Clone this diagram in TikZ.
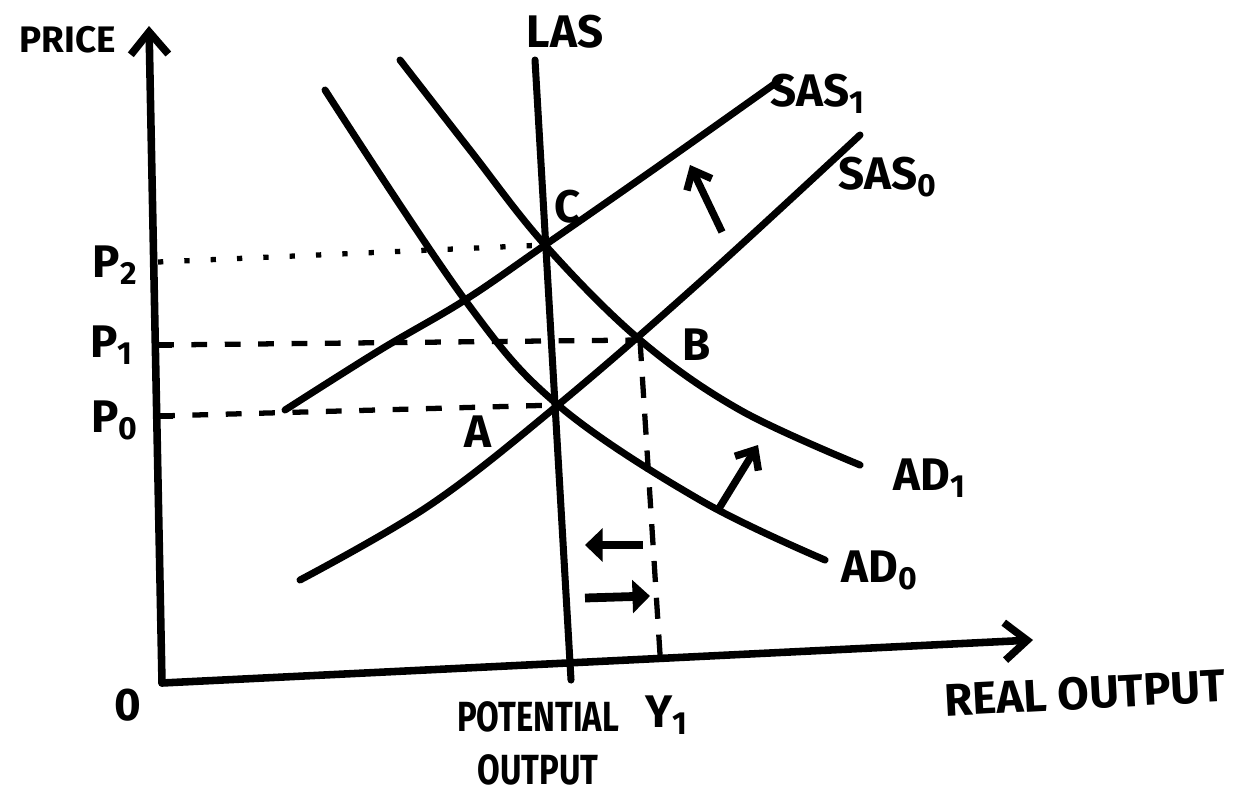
\documentclass[tikz,border=0pt]{standalone}
\usepackage{fontspec}
\setmainfont{Fira Sans}
\usetikzlibrary{arrows.meta}
\begin{document}
\begin{tikzpicture}[x=0.02cm,y=-0.02cm,
  axis/.style={line width=4.3pt, line cap=round, line join=round},
  curve/.style={line width=4pt, line cap=round, line join=round},
  axhead/.style={-{Straight Barb[length=4.5mm,width=7.5mm]}},
  shiftarrow/.style={line width=4.2pt, -{Straight Barb[length=3.2mm,width=5.5mm]}},
  blockarrow/.style={line width=5pt, -{Triangle[length=3.5mm,width=6.5mm]}},
  guide/.style={line width=3pt},
  dotline/.style={guide, dash pattern=on 3pt off 12pt},
  dashline/.style={guide, dash pattern=on 9pt off 10pt},
  lbl/.style={font=\fontsize{26}{28}\selectfont\bfseries, inner sep=0pt},
  narrow/.style={font=\fontsize{24}{26}\selectfont\bfseries, inner sep=0pt, xscale=0.78},
  small/.style={font=\fontsize{21}{23}\selectfont\bfseries, inner sep=0pt}]
\useasboundingbox (0,0) rectangle (1236,798);
\fill[white] (0,0) rectangle (1236,798);
% axes
\coordinate (O) at (162,683);
\coordinate (ytop) at (149,26);
\coordinate (xend) at (1033,640);
\draw[axis,axhead] (O) -- (ytop);
\draw[axis,axhead] (O) -- (xend);
% key points
\coordinate (C) at (545,245);
\coordinate (B) at (640,340);
\coordinate (A) at (558,405);
\coordinate (X) at (465,300);
% axis points
\coordinate (p2) at (158,262);
\coordinate (p1) at (158,345);
\coordinate (p0) at (159,416);
\coordinate (s1start) at (285,410);
\coordinate (y1) at (661,670);
% LAS
\coordinate (lastop) at (535,60);
\coordinate (lasbot) at (571,680);
\draw[curve] (lastop) -- (lasbot);
% SAS1
\draw[curve] plot[smooth,tension=0.6] coordinates {(s1start) (380,350) (X) (C) (660,165) (780,80)};
% SAS0
\draw[curve] plot[smooth,tension=0.6] coordinates {(300,580) (430,505) (A) (700,282) (860,135)};
% AD0
\draw[curve] plot[smooth,tension=0.6] coordinates {(325,90) (X) (A) (700,500) (825,560)};
% AD1
\draw[curve] plot[smooth,tension=0.6] coordinates {(400,60) (470,150) (C) (B) (740,410) (860,465)};
% guides
\draw[dotline] (p2) -- (C);
\draw[dashline] (p1) -- (B);
\draw[dashline] (p0) -- (A);
\draw[guide, dash pattern=on 12pt off 9pt] (B) -- (y1);
\draw[line width=3.5pt] (p1) -- ++(14,0);
\draw[line width=3.5pt] (p0) -- ++(14,0);
% shift arrows
\coordinate (sa1) at (722,232); \coordinate (sa2) at (690,165);
\draw[shiftarrow] (sa1) -- (sa2);
\coordinate (da1) at (718,510); \coordinate (da2) at (758,445);
\draw[shiftarrow] (da1) -- (da2);
\coordinate (la1) at (643,545); \coordinate (la2) at (585,545);
\draw[blockarrow] (la1) -- (la2);
\coordinate (ra1) at (585,598); \coordinate (ra2) at (650,596);
\draw[blockarrow] (ra1) -- (ra2);
% labels
\node[small] (price) at (68,40) {PRICE};
\node[lbl] (las) at (565,32) {LAS};
\node[lbl] (sas1) at (818,94) {SAS\textsubscript{1}};
\node[lbl] (sas0) at (888,177) {SAS\textsubscript{0}};
\node[lbl] (lc) at (568,207) {C};
\node[lbl] (lb) at (697,345) {B};
\node[lbl] (la) at (478,432) {A};
\node[lbl] (ad1) at (930,478) {AD\textsubscript{1}};
\node[lbl] (ad0) at (880,570) {AD\textsubscript{0}};
\node[lbl] (lp2) at (115,265) {P\textsubscript{2}};
\node[lbl] (lp1) at (112,345) {P\textsubscript{1}};
\node[lbl] (lp0) at (115,420) {P\textsubscript{0}};
\node[lbl] (zero) at (128,705) {0};
\node[narrow] (pot) at (538,717) {POTENTIAL};
\node[narrow] (out) at (538,770) {OUTPUT};
\node[lbl] (ly1) at (667,715) {Y\textsubscript{1}};
\node[lbl, rotate=3] (real) at (1085,693) {REAL OUTPUT};
\end{tikzpicture}
\end{document}
